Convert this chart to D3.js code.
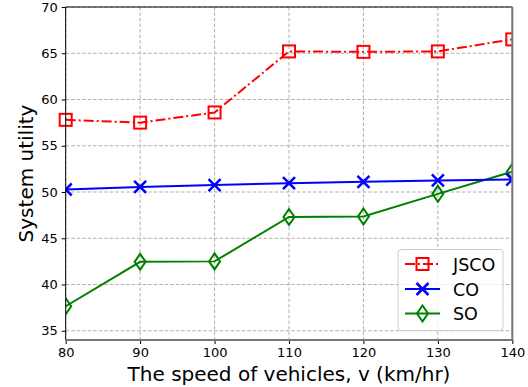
<!DOCTYPE html>
<html><head><meta charset="utf-8">
<script src="https://cdn.jsdelivr.net/npm/d3@7"></script>
<style>body{margin:0;background:#fff}svg{display:block;font-family:"DejaVu Sans",sans-serif}</style>
</head><body><svg id="c" width="528" height="387"></svg>
<script>
const speeds = [80, 90, 100, 110, 120, 130, 140];
const jsco = [57.8, 57.5, 58.6, 65.2, 65.15, 65.2, 66.5];
const co = [50.27, 50.55, 50.75, 50.95, 51.1, 51.25, 51.35];
const so = [37.65, 42.45, 42.5, 47.3, 47.35, 49.8, 52.2];
const xTicks = [80, 90, 100, 110, 120, 130, 140];
const yTicks = [35, 40, 45, 50, 55, 60, 65, 70];
const seriesNames = ["JSCO", "CO", "SO"];

const L = 65.7, R = 512.3, T = 7, B = 340;
const svg = d3.select("#c");
const x = d3.scaleLinear().domain([80, 140]).range([L, R]);
const y = d3.scaleLinear().domain([34, 70]).range([B, T]);

const defs = svg.append("defs");
defs.append("clipPath").attr("id", "clip").append("rect").attr("x", L).attr("y", T).attr("width", R - L).attr("height", B - T);
defs.append("clipPath").attr("id", "clipJ").append("rect").attr("x", 0).attr("y", 0).attr("width", R).attr("height", B);

// grid
const g = svg.append("g");
g.selectAll(".gx").data(xTicks).join("line").attr("x1", d => x(d)).attr("x2", d => x(d)).attr("y1", T).attr("y2", B)
  .attr("stroke", "#b0b0b0").attr("stroke-width", 1).attr("stroke-dasharray", "3.5,2");
g.selectAll(".gy").data(yTicks).join("line").attr("x1", L).attr("x2", R).attr("y1", d => y(d)).attr("y2", d => y(d))
  .attr("stroke", "#b0b0b0").attr("stroke-width", 1).attr("stroke-dasharray", "3.5,2");

// axes
const xAxis = d3.axisBottom(x).tickValues(xTicks).tickSize(4).tickPadding(4);
const yAxis = d3.axisLeft(y).tickValues(yTicks).tickSize(4).tickPadding(4);
const gx = svg.append("g").attr("transform", `translate(0,${B})`).call(xAxis);
const gy = svg.append("g").attr("transform", `translate(${L},0)`).call(yAxis);
[gx, gy].forEach(a => {
  a.select(".domain").remove();
  a.selectAll("text").attr("font-size", 13).attr("font-family", "DejaVu Sans").attr("fill", "#000");
  a.selectAll("line").attr("stroke", "#000");
});

const line = d3.line().x((d, i) => x(speeds[i])).y(d => y(d));

// SO
const gs = svg.append("g").attr("clip-path", "url(#clip)");
gs.append("path").datum(so).attr("d", line).attr("fill", "none").attr("stroke", "green").attr("stroke-width", 2);
const diamond = (cx, cy) => `M${cx},${cy-8}L${cx+5.5},${cy}L${cx},${cy+8}L${cx-5.5},${cy}Z`;
gs.selectAll(".ds").data(so).join("path").attr("d", (d, i) => diamond(x(speeds[i]), y(d)))
  .attr("fill", "none").attr("stroke", "green").attr("stroke-width", 2);

// CO
const gc = svg.append("g").attr("clip-path", "url(#clip)");
gc.append("path").datum(co).attr("d", line).attr("fill", "none").attr("stroke", "blue").attr("stroke-width", 2);
const cross = (cx, cy) => `M${cx-6},${cy-6}L${cx+6},${cy+6}M${cx-6},${cy+6}L${cx+6},${cy-6}`;
gc.selectAll(".xs").data(co).join("path").attr("d", (d, i) => cross(x(speeds[i]), y(d)))
  .attr("fill", "none").attr("stroke", "blue").attr("stroke-width", 2.5);

// JSCO
const gj = svg.append("g").attr("clip-path", "url(#clipJ)");
gj.append("path").datum(jsco).attr("d", line).attr("fill", "none").attr("stroke", "red").attr("stroke-width", 2)
  .attr("stroke-dasharray", "10,3,2,3");
gj.selectAll(".sq").data(jsco).join("rect").attr("x", (d, i) => x(speeds[i]) - 6).attr("y", d => y(d) - 6)
  .attr("width", 12).attr("height", 12).attr("fill", "none").attr("stroke", "red").attr("stroke-width", 2);

// spines
svg.append("line").attr("x1", L).attr("x2", R).attr("y1", T).attr("y2", T).attr("stroke", "#000").attr("stroke-width", 1);
svg.append("line").attr("x1", L).attr("x2", L).attr("y1", T).attr("y2", B).attr("stroke", "#000").attr("stroke-width", 1);
svg.append("line").attr("x1", L).attr("x2", R + 1).attr("y1", B).attr("y2", B).attr("stroke", "#777").attr("stroke-width", 2);
svg.append("line").attr("x1", R).attr("x2", R).attr("y1", T).attr("y2", B + 1).attr("stroke", "#777").attr("stroke-width", 2);

// labels
svg.append("text").attr("x", (L + R) / 2).attr("y", 381).attr("text-anchor", "middle").attr("font-size", 20).text("The speed of vehicles, v (km/hr)");
svg.append("text").attr("transform", `translate(33,${(T + B) / 2}) rotate(-90)`).attr("text-anchor", "middle").attr("font-size", 20).text("System utility");

// legend
const lg = svg.append("g");
lg.append("rect").attr("x", 398).attr("y", 249.5).attr("width", 105).attr("height", 81).attr("rx", 3)
  .attr("fill", "#fff").attr("fill-opacity", 0.8).attr("stroke", "#ccc").attr("stroke-width", 1);
const colors = ["red", "blue", "green"];
const ly = [264, 289, 313.5];
seriesNames.forEach((n, i) => {
  const cy = ly[i], cx = 422.5;
  lg.append("line").attr("x1", 405).attr("x2", 440).attr("y1", cy).attr("y2", cy).attr("stroke", colors[i]).attr("stroke-width", 2)
    .attr("stroke-dasharray", i === 0 ? "10,3,2,3" : null);
  if (i === 0) lg.append("rect").attr("x", cx - 6).attr("y", cy - 6).attr("width", 12).attr("height", 12).attr("fill", "none").attr("stroke", "red").attr("stroke-width", 2);
  if (i === 1) lg.append("path").attr("d", cross(cx, cy)).attr("stroke", "blue").attr("stroke-width", 2.5);
  if (i === 2) lg.append("path").attr("d", diamond(cx, cy)).attr("fill", "none").attr("stroke", "green").attr("stroke-width", 2);
  lg.append("text").attr("x", 453).attr("y", cy + 6.5).attr("font-size", 17.5).text(n);
});
</script></body></html>
